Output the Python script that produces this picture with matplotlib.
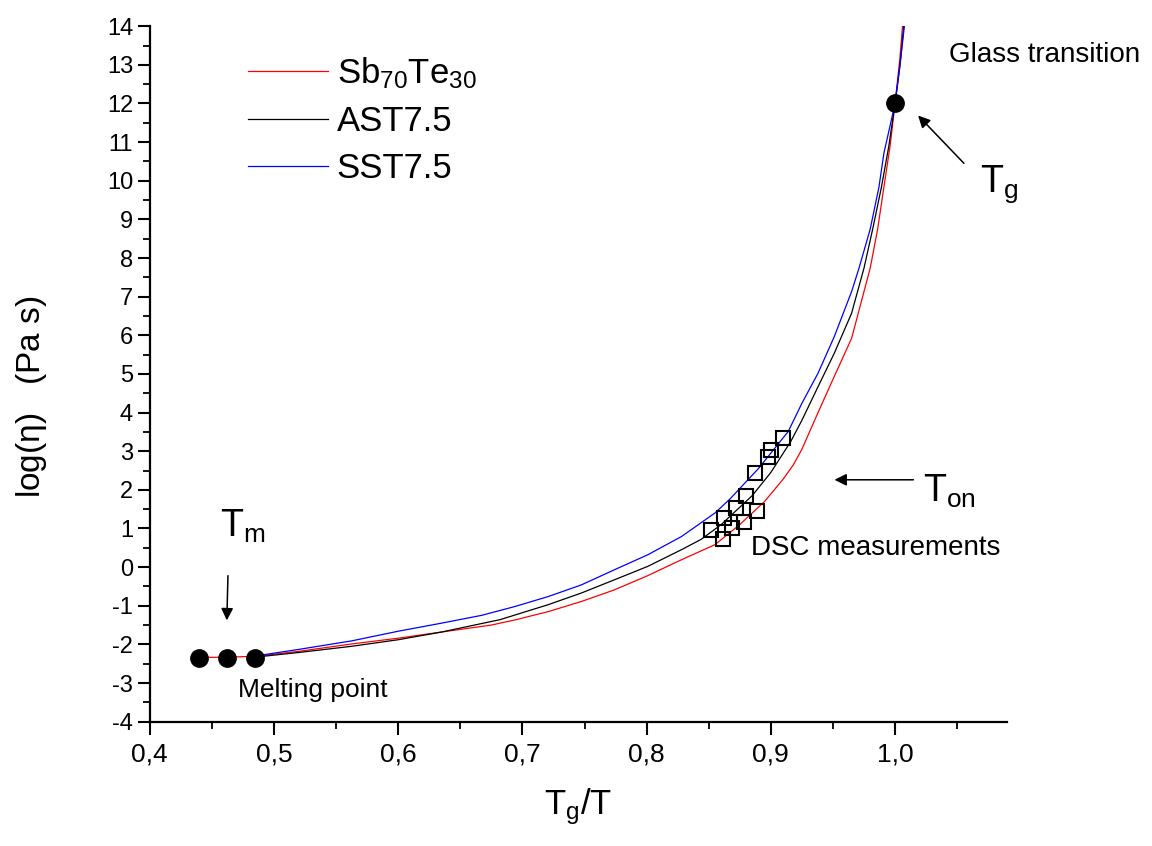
import numpy as np
import matplotlib
matplotlib.use("Agg")
import matplotlib.pyplot as plt
from matplotlib.ticker import MultipleLocator, FuncFormatter

plt.rcParams['font.family'] = ['Liberation Sans', 'DejaVu Sans']
plt.rcParams['mathtext.fontset'] = 'custom'
plt.rcParams['mathtext.rm'] = 'Liberation Sans'
plt.rcParams['mathtext.it'] = 'Liberation Sans'
plt.rcParams['axes.unicode_minus'] = False

# curves (Tg/T, log eta)
red_x = [0.44, 0.462, 0.485, 0.52, 0.5625, 0.60, 0.635, 0.675, 0.695, 0.721, 0.7475, 0.774,
         0.801, 0.828, 0.855, 0.875, 0.895, 0.91, 0.918, 0.925, 0.938, 0.951, 0.965, 0.98,
         0.986, 0.991, 0.996, 1.0, 1.004, 1.006]
red_y = [-2.34, -2.33, -2.31, -2.18, -1.99, -1.84, -1.68, -1.50, -1.36, -1.15, -0.89, -0.59,
         -0.22, 0.19, 0.58, 1.1, 1.7, 2.28, 2.64, 3.05, 4.0, 4.93, 5.92, 7.74,
         8.75, 9.83, 10.9, 12.0, 13.2, 14.0]

black_x = [0.485, 0.52, 0.5625, 0.60, 0.635, 0.682, 0.721, 0.7475, 0.774, 0.801, 0.828, 0.844,
           0.86, 0.885, 0.9, 0.916, 0.925, 0.938, 0.951, 0.965, 0.975, 0.982, 0.989, 0.995,
           1.0, 1.004, 1.007]
black_y = [-2.33, -2.21, -2.05, -1.88, -1.68, -1.36, -0.97, -0.67, -0.33, 0.02, 0.45, 0.72,
           1.1, 1.85, 2.45, 3.25, 3.8, 4.67, 5.53, 6.57, 7.74, 8.75, 9.83, 10.9,
           12.0, 13.0, 14.0]

blue_x = [0.485, 0.52, 0.5625, 0.60, 0.635, 0.667, 0.694, 0.721, 0.7475, 0.774, 0.801, 0.828,
          0.855, 0.867, 0.89, 0.914, 0.925, 0.938, 0.951, 0.965, 0.971, 0.98, 0.987, 0.991,
          1.0, 1.004, 1.0075]
blue_y = [-2.30, -2.13, -1.91, -1.66, -1.45, -1.25, -1.02, -0.76, -0.46, -0.07, 0.32, 0.79,
          1.40, 1.76, 2.55, 3.51, 4.24, 5.02, 5.96, 7.13, 7.74, 8.75, 9.83, 10.71,
          12.0, 13.0, 14.0]

# DSC measurements (open squares)
dsc_x = [0.9098, 0.9002, 0.898, 0.8875, 0.880, 0.889, 0.872, 0.878, 0.862, 0.869, 0.8515, 0.8615]
dsc_y = [3.34, 3.03, 2.86, 2.43, 1.83, 1.46, 1.53, 1.18, 1.27, 1.01, 0.96, 0.72]

# melting points and glass transition
tm_x = [0.44, 0.462, 0.485]
tm_y = [-2.34, -2.34, -2.34]
tg_x = [1.0]
tg_y = [12.0]

fig = plt.figure(figsize=(11.52, 8.46), dpi=100)
ax = fig.add_axes([0.130, 0.147, 0.744, 0.822])

ax.plot(red_x, red_y, color='red', lw=0.9, label=r'Sb$_{70}$Te$_{30}$')
ax.plot(black_x, black_y, color='black', lw=0.9, label='AST7.5')
ax.plot(blue_x, blue_y, color='blue', lw=0.9, label='SST7.5')

ax.plot(dsc_x, dsc_y, 's', mfc='none', mec='black', mew=1.5, ms=10.5, ls='none')
ax.plot(tm_x, tm_y, 'o', color='black', ms=12.5, ls='none')
ax.plot(tg_x, tg_y, 'o', color='black', ms=12.5, ls='none')

ax.set_xlim(0.4, 1.09)
ax.set_ylim(-4, 14)

for s in ['top', 'right']:
    ax.spines[s].set_visible(False)
for s in ['left', 'bottom']:
    ax.spines[s].set_linewidth(1.6)

ax.xaxis.set_major_locator(MultipleLocator(0.1))
ax.xaxis.set_minor_locator(MultipleLocator(0.05))
ax.yaxis.set_major_locator(MultipleLocator(1))
ax.yaxis.set_minor_locator(MultipleLocator(0.5))
ax.xaxis.set_major_formatter(FuncFormatter(lambda v, p: ('%.1f' % v).replace('.', ',')))
ax.tick_params(which='major', direction='out', length=9, width=1.5)
ax.tick_params(which='minor', direction='out', length=5, width=1.3)
ax.tick_params(axis='y', labelsize=17, pad=3)
ax.tick_params(axis='x', labelsize=19, pad=6)

ax.set_xlabel(r'T$_g$/T', fontsize=25, labelpad=14)
ax.set_ylabel(r'log($\eta$)   (Pa s)', fontsize=24)
ax.yaxis.set_label_coords(-0.118, 0.467)

ax.legend(loc='upper left', bbox_to_anchor=(0.115, 0.958), frameon=False, fontsize=25,
          handlelength=2.3, handletextpad=0.25, labelspacing=0.4, borderpad=0, borderaxespad=0)

ax.text(1.0436, 13.25, 'Glass transition', fontsize=20, va='center')
ax.text(1.068, 9.71, r'T$_g$', fontsize=27, va='baseline')
ax.text(1.0225, 1.69, r'T$_{on}$', fontsize=27, va='baseline')
ax.text(0.4563, 0.78, r'T$_m$', fontsize=27, va='baseline')
ax.text(0.8843, 0.32, 'DSC measurements', fontsize=20, va='baseline')
ax.text(0.4708, -3.35, 'Melting point', fontsize=19, va='baseline')

arrow = dict(arrowstyle='-|>', color='black', lw=1.1, mutation_scale=18)
ax.annotate('', xy=(1.017, 11.74), xytext=(1.057, 10.40), arrowprops=arrow)
ax.annotate('', xy=(0.949, 2.26), xytext=(1.017, 2.26), arrowprops=arrow)
ax.annotate('', xy=(0.462, -1.45), xytext=(0.463, -0.15), arrowprops=arrow)

fig.savefig('out.png', dpi=100)
